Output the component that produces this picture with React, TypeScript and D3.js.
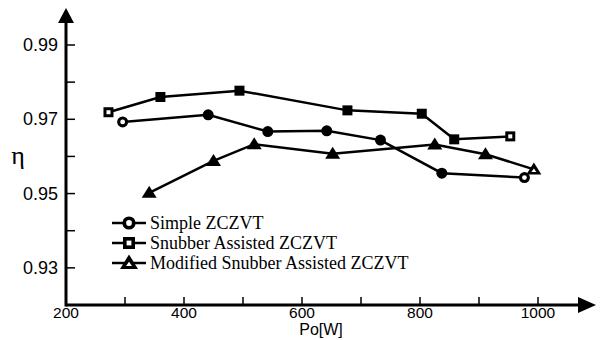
import React, { useEffect, useRef } from 'react';
import * as d3 from 'd3';

// Po[W] vs efficiency for three converter variants
const simplePo = [296, 441, 542, 642, 733, 837, 977];
const simpleEta = [0.9693, 0.9712, 0.9667, 0.9669, 0.9644, 0.9555, 0.9543];

const snubberPo = [272, 360, 494, 677, 803, 858, 953];
const snubberEta = [0.9719, 0.976, 0.9777, 0.9724, 0.9715, 0.9646, 0.9654];

const modifiedPo = [341, 450, 519, 652, 825, 911, 993];
const modifiedEta = [0.9502, 0.9588, 0.9633, 0.9607, 0.9632, 0.9606, 0.9565];

const xTicks = [200, 300, 400, 500, 600, 700, 800, 900, 1000];
const xLabels = [200, 400, 600, 800, 1000];
const yTicks = [0.93, 0.94, 0.95, 0.96, 0.97, 0.98, 0.99];
const yLabels = [0.93, 0.95, 0.97, 0.99];

const legendNames = ['Simple ZCZVT', 'Snubber Assisted ZCZVT', 'Modified Snubber Assisted ZCZVT'];

const App = () => {
  const ref = useRef<SVGSVGElement>(null);

  useEffect(() => {
    const svg = d3.select(ref.current);
    svg.selectAll('*').remove();

    const x = d3.scaleLinear().domain([200, 1000]).range([66, 538]);
    const y = d3.scaleLinear().domain([0.92, 0.99]).range([305, 45]);

    const sans = 'Liberation Sans, Arial, sans-serif';
    const serif = 'Liberation Serif, Times New Roman, serif';

    // axes lines with arrows
    svg.append('line')
      .attr('x1', x(200)).attr('x2', 580)
      .attr('y1', y(0.92)).attr('y2', y(0.92))
      .attr('stroke', '#000').attr('stroke-width', 3);
    svg.append('path')
      .attr('d', `M596,${y(0.92)} L578,${y(0.92) - 8} L578,${y(0.92) + 8} Z`)
      .attr('fill', '#000');
    svg.append('line')
      .attr('x1', x(200)).attr('x2', x(200))
      .attr('y1', y(0.92) + 1.5).attr('y2', 20)
      .attr('stroke', '#000').attr('stroke-width', 3);
    svg.append('path')
      .attr('d', `M${x(200)},8 L${x(200) - 8},23 L${x(200) + 8},23 Z`)
      .attr('fill', '#000');

    // x ticks
    const gx = svg.append('g').attr('transform', `translate(0,${y(0.92)})`);
    gx.selectAll('line').data(xTicks.slice(1)).enter().append('line')
      .attr('x1', d => x(d)).attr('x2', d => x(d))
      .attr('y1', 0).attr('y2', -8)
      .attr('stroke', '#000').attr('stroke-width', 1.5);
    gx.selectAll('text').data(xLabels).enter().append('text')
      .attr('x', d => x(d)).attr('y', 12.5)
      .attr('text-anchor', 'middle')
      .attr('font-family', sans).attr('font-size', 15.5)
      .text(d => d);

    // y ticks
    const gy = svg.append('g').attr('transform', `translate(${x(200)},0)`);
    gy.selectAll('line').data(yTicks).enter().append('line')
      .attr('x1', 0).attr('x2', 9)
      .attr('y1', d => y(d)).attr('y2', d => y(d))
      .attr('stroke', '#000').attr('stroke-width', 1.5);
    gy.selectAll('text').data(yLabels).enter().append('text')
      .attr('x', -8).attr('y', d => y(d) + 6)
      .attr('text-anchor', 'end')
      .attr('font-family', sans).attr('font-size', 18)
      .text(d => d.toFixed(2));

    // axis titles
    svg.append('text')
      .attr('x', 321).attr('y', 335)
      .attr('text-anchor', 'middle')
      .attr('font-family', sans).attr('font-size', 16)
      .text('Po[W]');
    svg.append('text')
      .attr('x', 18).attr('y', 164)
      .attr('text-anchor', 'middle')
      .attr('font-family', serif).attr('font-size', 26)
      .text('η');

    const line = d3.line<[number, number]>()
      .x(d => x(d[0]))
      .y(d => y(d[1]));

    const drawCircle = (g: any, cx: number, cy: number, hollow: boolean, s = 1) => {
      g.append('circle').attr('cx', cx).attr('cy', cy).attr('r', 5.5 * s).attr('fill', '#000');
      if (hollow) g.append('circle').attr('cx', cx).attr('cy', cy).attr('r', 2.4 * s).attr('fill', '#fff');
    };
    const drawSquare = (g: any, cx: number, cy: number, hollow: boolean, s = 1) => {
      g.append('rect').attr('x', cx - 5 * s).attr('y', cy - 5 * s).attr('width', 10 * s).attr('height', 10 * s).attr('fill', '#000');
      if (hollow) g.append('rect').attr('x', cx - 2 * s).attr('y', cy - 2 * s).attr('width', 4 * s).attr('height', 4 * s).attr('fill', '#fff');
    };
    const drawTriangle = (g: any, cx: number, cy: number, hollow: boolean, s = 1) => {
      g.append('path').attr('d', `M${cx},${cy - 7 * s} L${cx - 7.5 * s},${cy + 5 * s} L${cx + 7.5 * s},${cy + 5 * s} Z`).attr('fill', '#000');
      if (hollow) g.append('path').attr('d', `M${cx},${cy - 1 * s} L${cx - 2.5 * s},${cy + 2.5 * s} L${cx + 2.5 * s},${cy + 2.5 * s} Z`).attr('fill', '#fff');
    };

    const series = [
      { po: simplePo, eta: simpleEta, marker: drawCircle, hollow: [0, 6] },
      { po: snubberPo, eta: snubberEta, marker: drawSquare, hollow: [0, 6] },
      { po: modifiedPo, eta: modifiedEta, marker: drawTriangle, hollow: [6] },
    ];

    series.forEach(s => {
      const pts = s.po.map((p, i) => [p, s.eta[i]] as [number, number]);
      svg.append('path')
        .attr('d', line(pts))
        .attr('fill', 'none').attr('stroke', '#000').attr('stroke-width', 2.5);
      const g = svg.append('g');
      pts.forEach((d, i) => s.marker(g, x(d[0]), y(d[1]), s.hollow.includes(i)));
    });

    // legend
    const lg = svg.append('g');
    legendNames.forEach((name, i) => {
      const cy = 223 + i * 20;
      lg.append('line').attr('x1', 112).attr('x2', 146).attr('y1', cy).attr('y2', cy)
        .attr('stroke', '#000').attr('stroke-width', 2.5);
      series[i].marker(lg, 129, cy, true, 1.2);
      lg.append('text')
        .attr('x', 150).attr('y', cy + 6)
        .attr('font-family', serif).attr('font-size', 18)
        .text(name);
    });
  }, []);

  return (
    <svg ref={ref} width={602} height={340}
      style={{ position: 'absolute', left: 0, top: 0, background: '#fff' }} />
  );
};

export default App;
